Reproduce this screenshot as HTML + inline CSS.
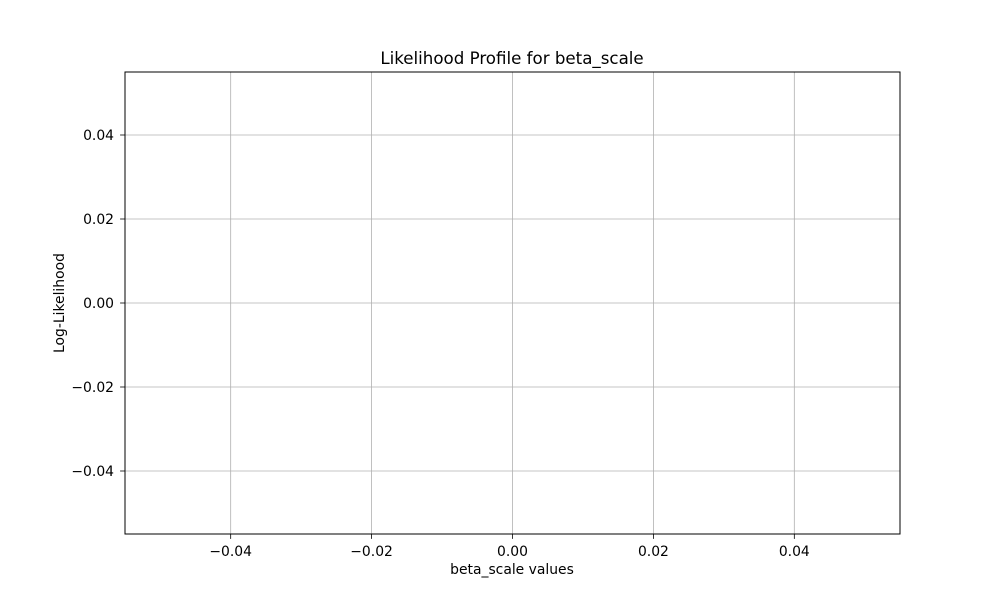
<!DOCTYPE html>
<html><head><meta charset="utf-8"><style>
html,body{margin:0;padding:0;background:#fff;}
svg{display:block;font-family:"DejaVu Sans","Liberation Sans",sans-serif;}
</style></head><body>
<svg id="chart" width="1000" height="600" viewBox="0 0 1000 600">
<rect width="1000" height="600" fill="#fff"/>
<g id="grid"></g>
<g id="ticks"></g>
<g id="series"></g>
<rect x="125" y="72" width="775" height="462" fill="none" stroke="#000" stroke-width="1"/>
<text x="512" y="64" text-anchor="middle" font-size="16.67">Likelihood Profile for beta_scale</text>
<text x="512" y="574" text-anchor="middle" font-size="13.9">beta_scale values</text>
<text x="64" y="303" text-anchor="middle" font-size="13.9" transform="rotate(-90 64 303)">Log-Likelihood</text>
</svg>
<script>
const xTicks = [-0.04, -0.02, 0.00, 0.02, 0.04];
const yTicks = [-0.04, -0.02, 0.00, 0.02, 0.04];
const xTickLabels = ["−0.04", "−0.02", "0.00", "0.02", "0.04"];
const yTickLabels = ["−0.04", "−0.02", "0.00", "0.02", "0.04"];
const xValues = [];
const yValues = [];

const L = 125, R = 900, T = 72, B = 534;
const xMin = -0.055, xMax = 0.055, yMin = -0.055, yMax = 0.055;
const xs = v => L + (v - xMin) / (xMax - xMin) * (R - L);
const ys = v => B - (v - yMin) / (yMax - yMin) * (B - T);
const NS = "http://www.w3.org/2000/svg";
function mk(tag, attrs, parent) {
  const e = document.createElementNS(NS, tag);
  for (const k in attrs) e.setAttribute(k, attrs[k]);
  parent.appendChild(e);
  return e;
}
const grid = document.getElementById('grid');
const ticks = document.getElementById('ticks');
xTicks.forEach((v, i) => {
  const x = xs(v);
  const g = mk('line', {x1: x, x2: x, y1: T, y2: B, stroke: '#b0b0b0', 'stroke-width': 0.8}, grid);
  
  
  const t = mk('line', {x1: x, x2: x, y1: B, y2: B + 4.9, stroke: '#000', 'stroke-width': 0.8}, ticks);
  
  
  const l = mk('text', {x: x, y: B + 22, 'text-anchor': 'middle', 'font-size': 13.9}, ticks);
  l.textContent = xTickLabels[i];
  
  
});
yTicks.forEach((v, i) => {
  const y = ys(v);
  const g = mk('line', {x1: L, x2: R, y1: y, y2: y, stroke: '#b0b0b0', 'stroke-width': 0.8}, grid);
  
  
  const t = mk('line', {x1: L - 4.9, x2: L, y1: y, y2: y, stroke: '#000', 'stroke-width': 0.8}, ticks);
  
  
  const l = mk('text', {x: L - 11, y: y + 5, 'text-anchor': 'end', 'font-size': 13.9}, ticks);
  l.textContent = yTickLabels[i];
  
  
});
if (xValues.length) {
  const pts = xValues.map((v, i) => xs(v) + ',' + ys(yValues[i])).join(' ');
  const p = mk('polyline', {points: pts, fill: 'none', stroke: '#1f77b4', 'stroke-width': 1.5}, document.getElementById('series'));
  
  
}
</script>
</body></html>
